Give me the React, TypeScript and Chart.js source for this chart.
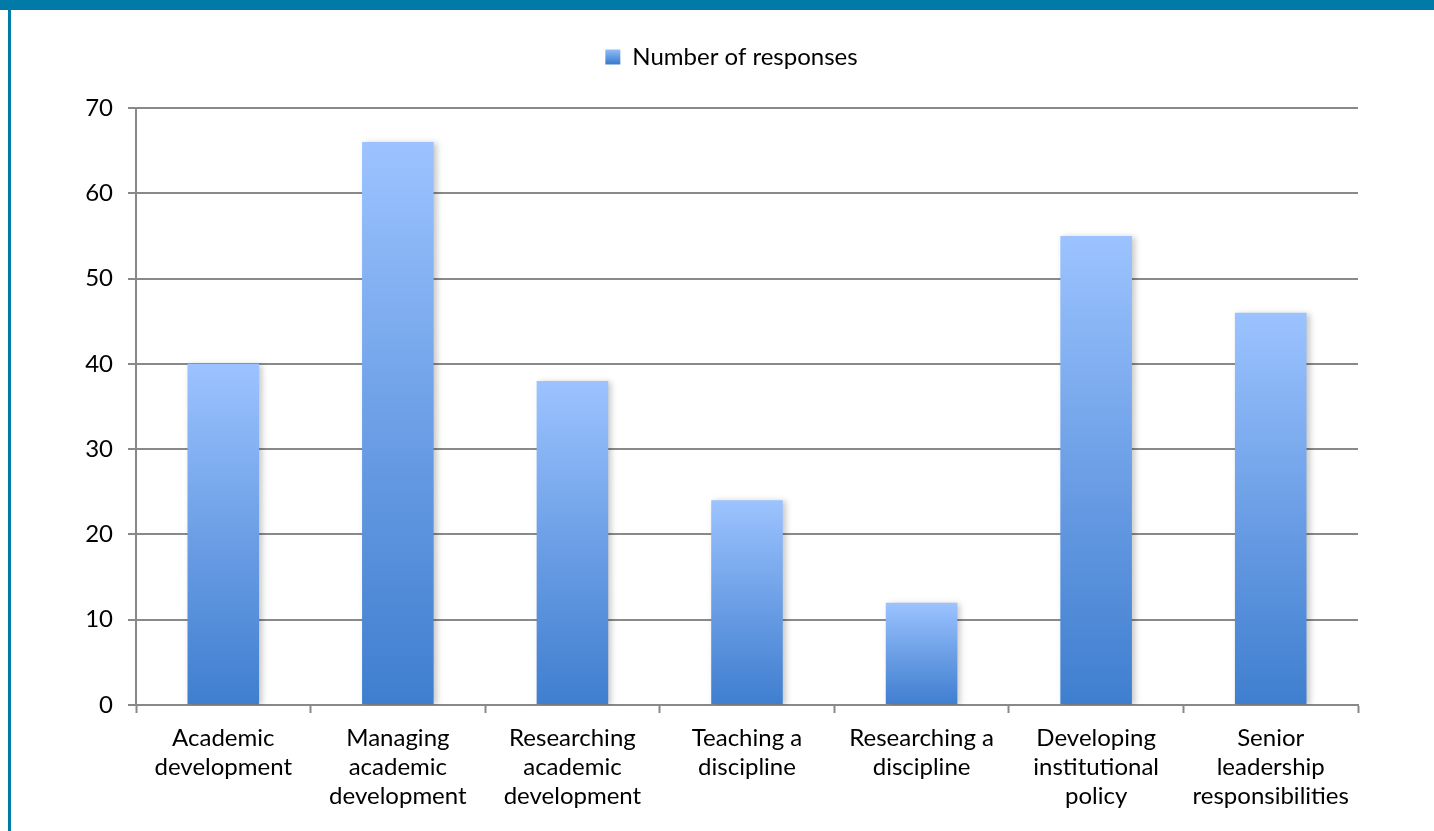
import React, { useEffect, useRef } from "react";
import { Chart, registerables } from "chart.js";

Chart.register(...registerables);

const categories: string[][] = [
  ["Academic", "development"],
  ["Managing", "academic", "development"],
  ["Researching", "academic", "development"],
  ["Teaching a", "discipline"],
  ["Researching a", "discipline"],
  ["Developing", "institutional", "policy"],
  ["Senior", "leadership", "responsibilities"],
];
const responses: number[] = [40, 66, 38, 24, 12, 55, 46];
const seriesLabel = "Number of responses";
const yTicks: number[] = [0, 10, 20, 30, 40, 50, 60, 70];

const FONT = "Lato, 'Gill Sans', 'Noto Sans', sans-serif";
const GRID = "#898989";
const TOP_COLOR = "#9CC3FF";
const MID_COLOR = "#6C9FE6";
const BOTTOM_COLOR = "#3F7ECF";

export default function App() {
  const ref = useRef<HTMLCanvasElement | null>(null);

  useEffect(() => {
    const canvas = ref.current;
    if (!canvas) return;

    const legendFit = {
      id: "legendFit",
      beforeLayout(chart: any) {
        const lg = chart.legend;
        if (lg && !lg._patched) {
          const f = lg.fit.bind(lg);
          lg.fit = function () {
            f();
            this.height = 93;
          };
          lg._patched = true;
        }
      },
      afterLayout(chart: any) {
        const lg = chart.legend;
        if (lg) {
          lg.left += 47;
          lg.right += 47;
        }
      },
    };

    const barShadow = {
      id: "barShadow",
      beforeDatasetDraw(chart: any) {
        const c = chart.ctx;
        c.save();
        c.shadowColor = "rgba(0,0,0,0.22)";
        c.shadowBlur = 6;
        c.shadowOffsetX = 3;
        c.shadowOffsetY = 1;
      },
      afterDatasetDraw(chart: any) {
        chart.ctx.restore();
      },
    };

    const chart = new Chart(canvas, {
      type: "bar",
      data: {
        labels: categories,
        datasets: [
          {
            label: seriesLabel,
            data: responses,
            backgroundColor: (ctx: any) => {
              const ch = ctx.chart;
              const y = ch.scales && ch.scales.y;
              if (!y || ctx.type !== "data" || !ch.chartArea) return MID_COLOR;
              const top = y.getPixelForValue(ctx.raw);
              const base = y.getPixelForValue(0);
              const g = ch.ctx.createLinearGradient(0, top, 0, base);
              g.addColorStop(0, TOP_COLOR);
              g.addColorStop(0.5, MID_COLOR);
              g.addColorStop(1, BOTTOM_COLOR);
              return g;
            },
            borderWidth: 0,
            categoryPercentage: 1,
            barPercentage: 0.41,
          },
        ],
      },
      options: {
        responsive: false,
        animation: false,
        layout: { padding: { left: 0, right: 76, top: 5, bottom: 0 } },
        plugins: {
          tooltip: { enabled: false },
          legend: {
            display: true,
            position: "top",
            labels: {
              color: "#000",
              font: { family: FONT, size: 24 },
              boxWidth: 15,
              boxHeight: 15,
              padding: 30,
              generateLabels: (ch: any) => {
                const g = ch.ctx.createLinearGradient(0, 38, 0, 53);
                g.addColorStop(0, TOP_COLOR);
                g.addColorStop(1, BOTTOM_COLOR);
                return [
                  {
                    text: seriesLabel,
                    fillStyle: g,
                    strokeStyle: "rgba(0,0,0,0)",
                    lineWidth: 0,
                    hidden: false,
                    datasetIndex: 0,
                    fontColor: "#000",
                  },
                ];
              },
            },
          },
        },
        scales: {
          x: {
            offset: true,
            grid: {
              display: true,
              offset: true,
              drawOnChartArea: false,
              drawTicks: true,
              tickLength: 8,
              tickWidth: 2,
              tickColor: GRID,
              color: GRID,
            },
            border: { display: true, color: GRID, width: 2 },
            ticks: {
              color: "#000",
              font: { family: FONT, size: 24, lineHeight: 1.2 },
              padding: 11,
              maxRotation: 0,
              autoSkip: false,
            },
            afterFit: (s: any) => {
              s.height = 126;
            },
          },
          y: {
            min: 0,
            max: 70,
            afterBuildTicks: (s: any) => {
              s.ticks = yTicks.map((v) => ({ value: v }));
            },
            grid: {
              color: GRID,
              lineWidth: 2,
              tickLength: 8,
              tickWidth: 2,
              tickColor: GRID,
              drawTicks: true,
            },
            border: { display: true, color: GRID, width: 2 },
            ticks: {
              color: "#000",
              font: { family: FONT, size: 24 },
              padding: 15,
            },
            afterFit: (s: any) => {
              s.width = 125;
            },
          },
        },
      },
      plugins: [legendFit, barShadow],
    });

    return () => chart.destroy();
  }, []);

  return (
    <div
      style={{
        position: "fixed",
        left: 0,
        top: 0,
        width: 1434,
        height: 831,
        background: "#fff",
        overflow: "hidden",
      }}
    >
      <div style={{ position: "absolute", left: 0, top: 0, width: 1434, height: 10, background: "#007BA8" }} />
      <div style={{ position: "absolute", left: 8, top: 0, width: 3, height: 831, background: "#007BA8" }} />
      <canvas
        ref={ref}
        width={1423}
        height={821}
        style={{ position: "absolute", left: 11, top: 10, width: 1423, height: 821 }}
      />
    </div>
  );
}
